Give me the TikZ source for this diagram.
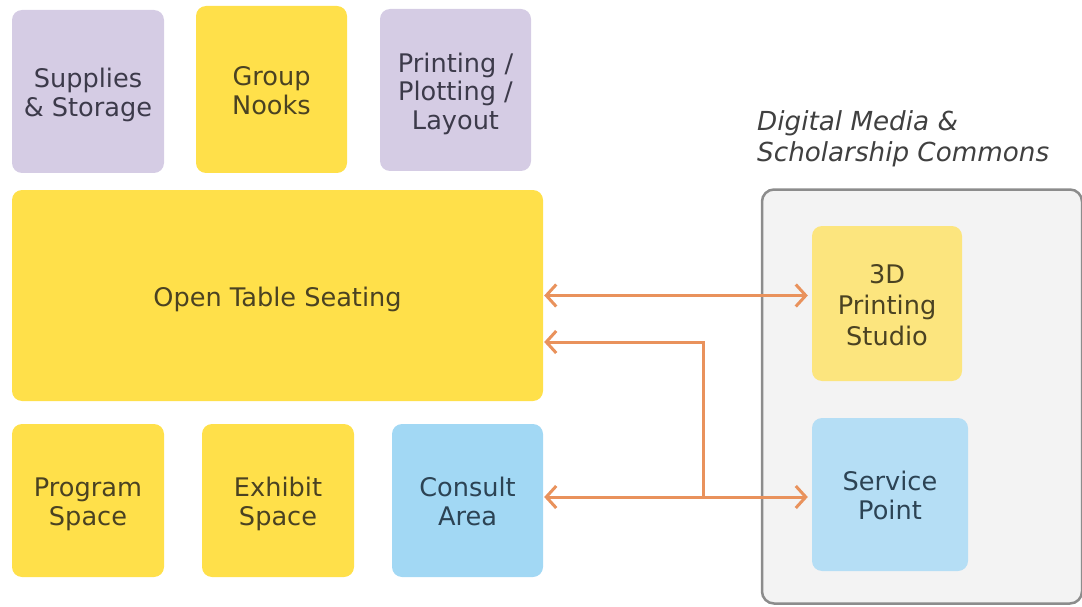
\documentclass[tikz,border=0pt]{standalone}
\usepackage{fontspec}
\setmainfont{DejaVu Sans}
\usetikzlibrary{arrows.meta,calc}
\definecolor{ylw}{HTML}{FFE04A}
\definecolor{lyl}{HTML}{FCE57E}
\definecolor{lav}{HTML}{D5CCE4}
\definecolor{blu}{HTML}{A2D8F4}
\definecolor{lbl}{HTML}{B5DEF5}
\definecolor{org}{HTML}{E9925C}
\definecolor{gbd}{HTML}{8C8C8C}
\definecolor{gfl}{HTML}{F3F3F3}
\definecolor{ytx}{HTML}{4A4222}
\definecolor{ltx}{HTML}{3C3A4A}
\definecolor{btx}{HTML}{2C4354}
\newcommand\rtxt[1]{\raisebox{-11.3pt}[0pt][0pt]{\begin{tabular}{@{}c@{}}#1\end{tabular}}}
\tikzset{
  room/.style={rectangle, rounded corners=10pt, draw=none,
    font=\fontsize{25.6}{28.7}\selectfont, inner sep=0pt},
  arr/.style={draw=org, line width=3pt, arrows={-Straight Barb[length=10pt,width=22pt,line width=3pt]}},
  barr/.style={draw=org, line width=3pt, arrows={Straight Barb[length=10pt,width=22pt,line width=3pt]-Straight Barb[length=10pt,width=22pt,line width=3pt]}}
}
\begin{document}
\begin{tikzpicture}[x=1pt,y=-1pt]
\useasboundingbox (0,0) rectangle (1082,607);
% container
\node[rectangle, rounded corners=12pt, draw=gbd, fill=gfl, line width=2.5pt,
  minimum width=320pt, minimum height=414pt, inner sep=0pt] (dmc) at (922,396.5) {};
\node[anchor=north west, align=left, inner sep=0pt, text=black!75,
  font=\itshape\fontsize{26.2}{31}\selectfont] (title) at (757,110) {Digital Media \&\\Scholarship Commons};
% rooms
\node[room, fill=lav, text=ltx, minimum width=152pt, minimum height=163pt] (sup) at (88,91.5) {\rtxt{Supplies\\\& Storage}};
\node[room, fill=ylw, text=ytx, minimum width=151pt, minimum height=167pt] (grp) at (271.5,89.5) {\rtxt{Group\\Nooks}};
\node[room, fill=lav, text=ltx, minimum width=151pt, minimum height=162pt] (prt) at (455.5,90) {\rtxt{Printing /\\Plotting /\\Layout}};
\node[room, fill=ylw, text=ytx, minimum width=531pt, minimum height=211pt] (ots) at (277.5,295.5) {\rtxt{Open Table Seating}};
\node[room, fill=ylw, text=ytx, minimum width=152pt, minimum height=153pt] (prg) at (88,500.5) {\rtxt{Program\\Space}};
\node[room, fill=ylw, text=ytx, minimum width=152pt, minimum height=153pt] (exh) at (278,500.5) {\rtxt{Exhibit\\Space}};
\node[room, fill=blu, text=btx, minimum width=151pt, minimum height=153pt] (con) at (467.5,500.5) {\rtxt{Consult\\Area}};
\node[room, fill=lyl, text=ytx, minimum width=150pt, minimum height=155pt, font=\fontsize{25.6}{31}\selectfont] (tdp) at (887,303.5) {\rtxt{3D\\Printing\\Studio}};
\node[room, fill=lbl, text=btx, minimum width=156pt, minimum height=153pt] (svc) at (890,494.5) {\rtxt{Service\\Point}};
% connectors
\coordinate (j) at (703,497);
\draw[barr] ([xshift=1pt]ots.east) -- ([xshift=-4pt]ots.east -| tdp.west);
\draw[barr] ([xshift=1pt]con.east |- j) -- ([xshift=-4pt]svc.west |- j);
\draw[arr] (j) |- ([xshift=1pt,yshift=-46.5pt]ots.east);
\end{tikzpicture}
\end{document}
